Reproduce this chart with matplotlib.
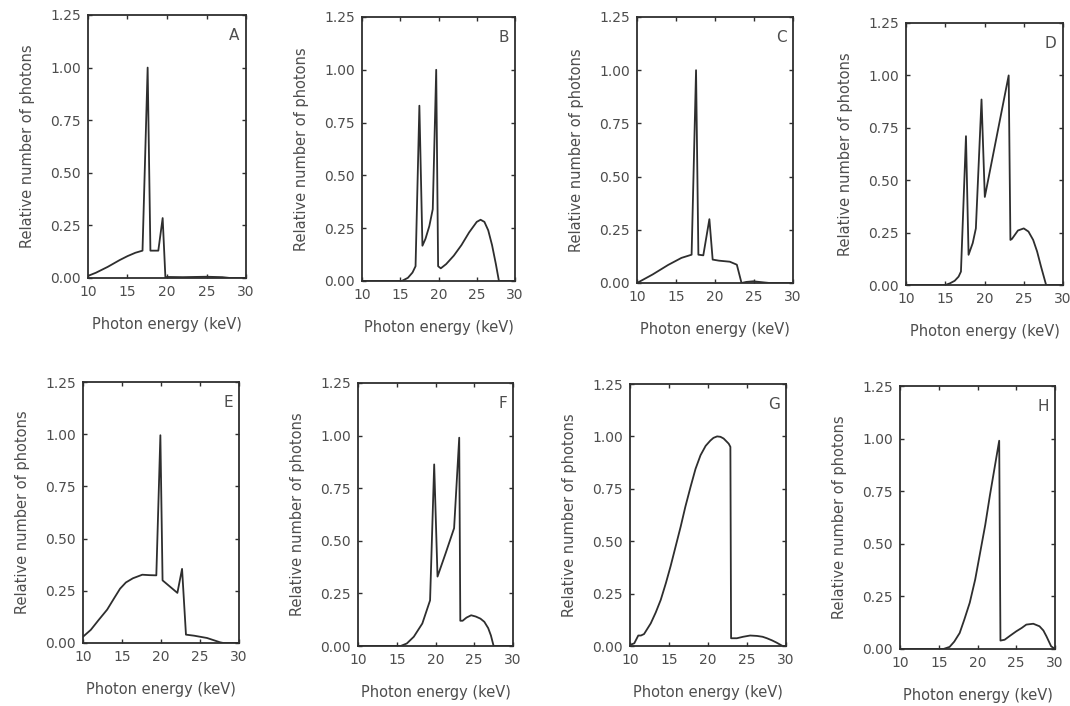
"""Eight filtered X-ray spectra (panels A-H), relative photon counts vs energy."""
import matplotlib
matplotlib.use("Agg")
import matplotlib.pyplot as plt  # noqa: E402

W, H = 1070, 706

# ---- data (keV, relative number of photons) ----
energy_a = [10, 11, 12.5, 14, 15, 16, 16.9, 17.55, 17.9, 18.9, 19.45, 19.8,
            20.0, 22, 25, 27, 28, 30]
counts_a = [0.01, 0.025, 0.053, 0.085, 0.104, 0.12, 0.13, 1.0, 0.13, 0.13,
            0.285, 0.0, 0.005, 0.004, 0.006, 0.004, 0.0, 0.0]

energy_b = [10, 15.2, 16.0, 16.6, 17.0, 17.5, 17.9, 18.3, 18.8, 19.25, 19.7,
            19.95, 20.3, 21, 22, 23, 24, 25, 25.5, 26, 26.5, 27, 27.5, 27.9, 30]
counts_b = [0, 0, 0.015, 0.04, 0.07, 0.83, 0.167, 0.2, 0.26, 0.34, 1.0,
            0.07, 0.06, 0.08, 0.12, 0.17, 0.23, 0.28, 0.29, 0.28, 0.24, 0.17,
            0.08, 0.0, 0]

energy_c = [10, 12, 14, 15.7, 17.0, 17.57, 17.87, 18.5, 19.28, 19.7, 20.5,
            21.9, 22.8, 23.4, 24.0, 24.9, 26.2, 27, 30]
counts_c = [0, 0.04, 0.085, 0.118, 0.133, 1.0, 0.133, 0.13, 0.30, 0.11,
            0.105, 0.1, 0.086, 0.0, 0.005, 0.008, 0.003, 0, 0]

energy_d = [10, 15, 15.6, 16.2, 16.7, 17.0, 17.64, 17.97, 18.5, 18.9, 19.62,
            20.04, 23.08, 23.3, 23.5, 24.26, 25.0, 25.6, 26.2, 26.7, 27.2,
            27.85, 30]
counts_d = [0, 0, 0.008, 0.02, 0.04, 0.064, 0.71, 0.144, 0.2, 0.27, 0.885,
            0.42, 1.0, 0.215, 0.22, 0.26, 0.27, 0.255, 0.215, 0.16, 0.088,
            0, 0]

energy_e = [10, 11, 12, 13.1, 14, 14.75, 15.5, 16.4, 17.6, 18.5, 19.4, 19.92,
            20.2, 22.1, 22.7, 23.2, 24.25, 25.9, 27.6, 28, 30]
counts_e = [0.03, 0.063, 0.11, 0.16, 0.215, 0.26, 0.29, 0.31, 0.327, 0.325,
            0.324, 0.995, 0.30, 0.24, 0.355, 0.04, 0.035, 0.024, 0.003, 0, 0]

energy_f = [10, 15.5, 16.3, 17.2, 18.3, 19.3, 19.83, 20.26, 21.3, 22.4,
            23.06, 23.2, 23.5, 24.0, 24.6, 25.2, 25.8, 26.3, 26.8, 27.15,
            27.5, 30]
counts_f = [0, 0, 0.012, 0.044, 0.107, 0.217, 0.863, 0.33, 0.44, 0.56, 0.99,
            0.12, 0.12, 0.135, 0.146, 0.14, 0.13, 0.115, 0.085, 0.05, 0, 0]

energy_g = [10, 10.55, 11.06, 11.4, 11.8, 12.66, 13.3, 13.94, 14.6, 15.2,
            15.85, 16.5, 17.1, 17.77, 18.4, 19.04, 19.7, 20.3, 20.7, 21.17,
            21.6, 22.0, 22.4, 22.66, 22.87, 22.96, 23.7, 24.5, 25.4, 26.3,
            27.0, 27.55, 28.2, 28.8, 29.56, 30]
counts_g = [0.005, 0.013, 0.05, 0.05, 0.057, 0.108, 0.16, 0.22, 0.30, 0.38,
            0.475, 0.57, 0.665, 0.76, 0.845, 0.91, 0.955, 0.98, 0.993, 1.0,
            0.998, 0.99, 0.975, 0.965, 0.95, 0.037, 0.037, 0.044, 0.05,
            0.048, 0.044, 0.037, 0.027, 0.016, 0.0, 0]

energy_h = [10, 15.6, 16.4, 17.0, 17.7, 18.3, 19.0, 19.7, 20.3, 21.0, 21.6,
            22.2, 22.8, 22.96, 23.5, 24.2, 25.0, 25.7, 26.3, 27.2, 28.0, 28.5,
            28.9, 29.5, 30]
counts_h = [0, 0, 0.01, 0.035, 0.076, 0.14, 0.22, 0.33, 0.45, 0.59, 0.73,
            0.86, 0.99, 0.04, 0.044, 0.063, 0.084, 0.1, 0.116, 0.12, 0.108,
            0.088, 0.06, 0.013, 0]

panel_labels = ["A", "B", "C", "D", "E", "F", "G", "H"]
x_ticks = [10, 15, 20, 25, 30]
y_ticks = [0.0, 0.25, 0.5, 0.75, 1.0, 1.25]

# axes boxes in pixels: left, top, right, bottom
boxes = [(88, 15, 246, 278), (362, 17, 515, 281), (637, 17, 793, 283),
         (906, 23, 1063, 285),
         (83, 382, 239, 643), (358, 383, 513, 646), (630, 384, 786, 646),
         (900, 386, 1055, 649)]

series = [(energy_a, counts_a), (energy_b, counts_b), (energy_c, counts_c),
          (energy_d, counts_d), (energy_e, counts_e), (energy_f, counts_f),
          (energy_g, counts_g), (energy_h, counts_h)]

TXT = "#4d4d4d"
LINE = "#2e2e2e"

plt.rcParams["font.family"] = ["DejaVu Sans"]
fig = plt.figure(figsize=(W / 100, H / 100), dpi=100)

for (l, t, r, b), (xs, ys), lab in zip(boxes, series, panel_labels):
    ax = fig.add_axes([l / W, 1 - b / H, (r - l) / W, (b - t) / H])
    ax.plot(xs, ys, color=LINE, lw=1.3)
    ax.set_xlim(10, 30)
    ax.set_ylim(0, 1.25)
    ax.set_xticks(x_ticks)
    ax.set_yticks(y_ticks)
    ax.set_yticklabels([f"{v:.2f}" for v in y_ticks])
    ax.tick_params(direction="in", length=3, width=1, top=True, right=True,
                   labelsize=10, labelcolor=TXT, color=LINE, pad=5)
    for s in ax.spines.values():
        s.set_color(LINE)
        s.set_linewidth(1.3)
    ax.set_xlabel("Photon energy (keV)", fontsize=10.5, color=TXT,
                  labelpad=13)
    ax.set_ylabel("Relative number of photons", fontsize=10.5, color=TXT,
                  labelpad=11)
    ax.text(0.96, 0.95, lab, transform=ax.transAxes, ha="right", va="top",
            fontsize=11, color=TXT)

fig.savefig("out.png", dpi=100)
